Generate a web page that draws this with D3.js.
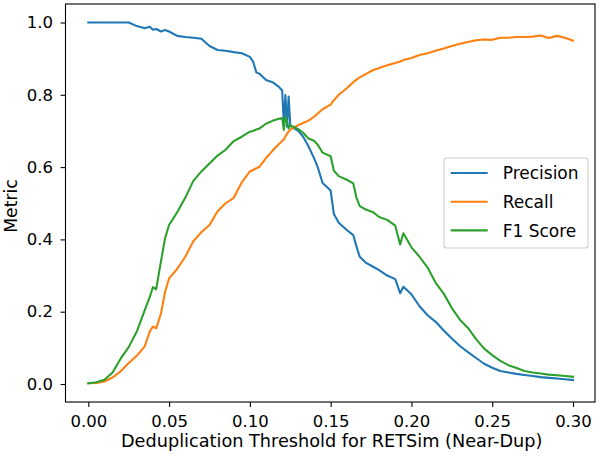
<!DOCTYPE html>
<html>
<head>
<meta charset="utf-8">
<script src="https://cdn.jsdelivr.net/npm/d3@7"></script>
<style>
  body { margin: 0; background: #fff; }
  svg { display: block; font-family: "DejaVu Sans", sans-serif; }
</style>
</head>
<body>
<script>
// thresholds
var thresholds = [0, 0.005, 0.01, 0.015, 0.02, 0.025, 0.03, 0.035, 0.038, 0.040, 0.042, 0.045, 0.0475,
  0.05, 0.055, 0.06, 0.065, 0.07, 0.075, 0.08, 0.085, 0.09, 0.095, 0.1, 0.102, 0.104, 0.106, 0.11,
  0.114, 0.118, 0.12, 0.121, 0.122, 0.123, 0.124, 0.125, 0.127, 0.13, 0.133, 0.136, 0.14, 0.142,
  0.145, 0.15, 0.152, 0.155, 0.16, 0.164, 0.166, 0.168, 0.172, 0.176, 0.18, 0.185, 0.19, 0.193,
  0.195, 0.2, 0.205, 0.21, 0.215, 0.22, 0.225, 0.23, 0.235, 0.24, 0.245, 0.25, 0.255, 0.26, 0.265,
  0.27, 0.275, 0.28, 0.285, 0.29, 0.295, 0.3];

var precision = [1.0, 1.0, 1.0, 1.0, 1.0, 1.0, 0.99, 0.984, 0.988, 0.980, 0.982, 0.975, 0.979,
  0.975, 0.963, 0.960, 0.958, 0.955, 0.935, 0.924, 0.922, 0.918, 0.915, 0.905, 0.892, 0.862, 0.858, 0.841,
  0.835, 0.822, 0.812, 0.721, 0.799, 0.712, 0.795, 0.716, 0.708, 0.700, 0.684, 0.660, 0.622, 0.600,
  0.556, 0.535, 0.470, 0.446, 0.426, 0.412, 0.380, 0.352, 0.335, 0.325, 0.315, 0.300, 0.290, 0.251,
  0.269, 0.248, 0.215, 0.190, 0.172, 0.148, 0.126, 0.105, 0.088, 0.072, 0.056, 0.045, 0.036, 0.032, 0.028,
  0.025, 0.022, 0.019, 0.017, 0.015, 0.013, 0.011];

var recall = [0.002, 0.003, 0.007, 0.018, 0.035, 0.058, 0.078, 0.105, 0.145, 0.159, 0.154, 0.195, 0.255,
  0.292, 0.318, 0.352, 0.395, 0.420, 0.440, 0.478, 0.500, 0.515, 0.558, 0.588, 0.592, 0.597, 0.601, 0.625,
  0.645, 0.664, 0.672, 0.676, 0.685, 0.692, 0.698, 0.703, 0.710, 0.716, 0.722, 0.728, 0.740, 0.748,
  0.760, 0.773, 0.785, 0.800, 0.818, 0.835, 0.842, 0.848, 0.858, 0.868, 0.874, 0.882, 0.888, 0.892,
  0.896, 0.902, 0.910, 0.915, 0.922, 0.928, 0.935, 0.941, 0.946, 0.951, 0.953, 0.952, 0.958, 0.958, 0.960,
  0.960, 0.961, 0.964, 0.957, 0.963, 0.958, 0.950];

var f1 = [0.002, 0.005, 0.012, 0.032, 0.070, 0.102, 0.145, 0.205, 0.240, 0.268, 0.262, 0.340, 0.403,
  0.440, 0.475, 0.515, 0.562, 0.588, 0.610, 0.632, 0.648, 0.672, 0.684, 0.698, 0.700, 0.704, 0.707, 0.720,
  0.728, 0.734, 0.736, 0.703, 0.739, 0.726, 0.707, 0.715, 0.712, 0.705, 0.695, 0.680, 0.672, 0.662,
  0.640, 0.630, 0.590, 0.575, 0.565, 0.555, 0.515, 0.492, 0.482, 0.476, 0.462, 0.454, 0.438, 0.386,
  0.417, 0.378, 0.352, 0.322, 0.280, 0.250, 0.210, 0.178, 0.155, 0.124, 0.098, 0.080, 0.064, 0.052, 0.044,
  0.036, 0.032, 0.029, 0.026, 0.024, 0.022, 0.020];

var seriesNames = ["Precision", "Recall", "F1 Score"];
var seriesColors = ["#1f77b4", "#ff7f0e", "#2ca02c"];
var xTicks = [0, 0.05, 0.1, 0.15, 0.2, 0.25, 0.3];
var yTicks = [0, 0.2, 0.4, 0.6, 0.8, 1.0];

var w = 603, h = 461;
var box = { left: 65.5, right: 595, top: 4, bottom: 402 };

var svg = d3.select("body").append("svg")
  .attr("width", w)
  .attr("height", h);

var x = d3.scaleLinear().domain([0, 0.3]).range([88.3, 573]);
var y = d3.scaleLinear().domain([0, 1]).range([384, 22.5]);

// axes
var xAxis = svg.append("g")
  .attr("transform", "translate(0," + box.bottom + ")")
  .call(d3.axisBottom(x).tickValues(xTicks).tickFormat(d3.format(".2f")).tickSize(4.9).tickPadding(8.1));
var yAxis = svg.append("g")
  .attr("transform", "translate(" + box.left + ",0)")
  .call(d3.axisLeft(y).tickValues(yTicks).tickFormat(d3.format(".1f")).tickSize(4.9).tickPadding(7.6));

[xAxis, yAxis].forEach(function(g) {
  g.select(".domain").remove();
  g.selectAll("line").attr("stroke", "#000").attr("stroke-width", 1.1);
  g.selectAll("text").attr("font-size", "16.5px").attr("fill", "#000")
    .attr("font-family", "DejaVu Sans, sans-serif");
});

// lines
var allSeries = [precision, recall, f1];
var line = d3.line()
  .x(function(d, i) { return x(thresholds[i]); })
  .y(function(d) { return y(d); });

svg.selectAll("path.series")
  .data(allSeries)
  .enter()
  .append("path")
  .attr("class", "series")
  .attr("d", line)
  .attr("fill", "none")
  .attr("stroke", function(d, i) { return seriesColors[i]; })
  .attr("stroke-width", 2.08)
  .attr("stroke-linejoin", "round")
  .attr("stroke-linecap", "square");

// frame
svg.append("rect")
  .attr("x", box.left)
  .attr("y", box.top)
  .attr("width", box.right - box.left)
  .attr("height", box.bottom - box.top)
  .attr("fill", "none")
  .attr("stroke", "#000")
  .attr("stroke-width", 1.1);

// axis labels
svg.append("text")
  .attr("x", 331.7)
  .attr("y", 446.5)
  .attr("text-anchor", "middle")
  .attr("font-size", "17.7px")
  .text("Deduplication Threshold for RETSim (Near-Dup)");

svg.append("text")
  .attr("transform", "translate(16.7,206) rotate(-90)")
  .attr("text-anchor", "middle")
  .attr("font-size", "17.2px")
  .text("Metric");

// legend
var legend = svg.append("g");
legend.append("rect")
  .attr("x", 444)
  .attr("y", 158)
  .attr("width", 144)
  .attr("height", 90)
  .attr("rx", 3)
  .attr("fill", "#fff")
  .attr("fill-opacity", 0.8)
  .attr("stroke", "#cccccc")
  .attr("stroke-width", 1.1);

var entry = legend.selectAll("g.entry")
  .data(seriesNames)
  .enter()
  .append("g")
  .attr("class", "entry")
  .attr("transform", function(d, i) { return "translate(0," + (173 + i * 28.7) + ")"; });

entry.append("line")
  .attr("x1", 450.7)
  .attr("x2", 487.7)
  .attr("stroke", function(d, i) { return seriesColors[i]; })
  .attr("stroke-width", 2.08);

entry.append("text")
  .attr("x", 502.7)
  .attr("dy", "0.36em")
  .attr("font-size", "17px")
  .text(function(d) { return d; });
</script>
</body>
</html>
